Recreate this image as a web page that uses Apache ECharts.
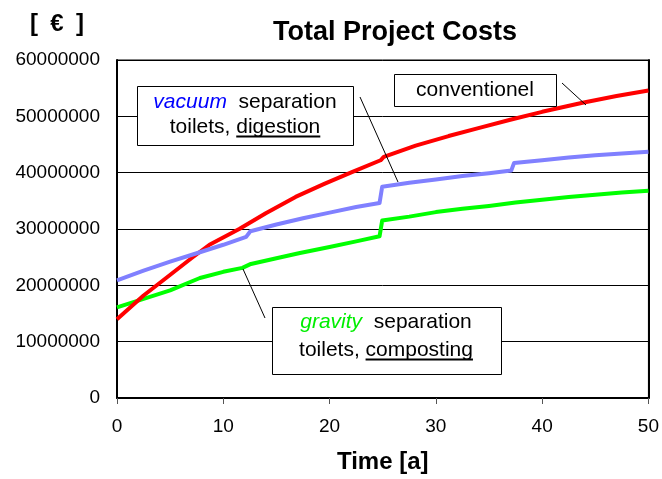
<!DOCTYPE html>
<html>
<head>
<meta charset="utf-8">
<script src="https://cdn.jsdelivr.net/npm/echarts@6/dist/echarts.min.js"></script>
<style>
html,body{margin:0;padding:0;background:#fff;}
#chart{width:662px;height:479px;}
</style>
</head>
<body>
<div id="chart"></div>
<script>
// ---- data (values in million EUR) ----
var conventionelT = [0, 2.5, 4.65, 7, 8.7, 11.5, 14, 16.8, 19.5, 22.1, 24.8, 25.1, 28.1, 31.2, 34, 37, 40, 43.8, 47, 50];
var conventionelV = [14.0, 18.2, 21.35, 24.8, 27.2, 30.0, 32.8, 35.7, 38.0, 40.1, 42.2, 42.8, 44.8, 46.5, 47.9, 49.4, 50.8, 52.4, 53.6, 54.6];

var vacuumT = [0, 2.5, 5, 7.5, 10, 12.15, 12.55, 15, 17.5, 20, 22.5, 24.7, 24.95, 27.5, 30, 32.5, 35, 37.1, 37.35, 40, 42.5, 45, 47.5, 50];
var vacuumV = [20.9, 22.6, 24.2, 25.7, 27.2, 28.6, 29.6, 30.8, 31.9, 32.9, 33.9, 34.6, 37.5, 38.2, 38.8, 39.4, 39.9, 40.4, 41.7, 42.2, 42.7, 43.1, 43.4, 43.7];

var gravityT = [0, 2.5, 5, 7.8, 10, 11.8, 12.6, 15, 17.1, 20, 22.5, 24.7, 24.95, 27.5, 30, 32.5, 35, 37.5, 40, 42.5, 45, 47.5, 50];
var gravityV = [16.1, 17.6, 19.1, 21.3, 22.4, 23.1, 23.8, 24.8, 25.7, 26.8, 27.8, 28.7, 31.5, 32.2, 33.0, 33.6, 34.1, 34.7, 35.2, 35.7, 36.1, 36.5, 36.8];

var yTickLabels = ['0', '10000000', '20000000', '30000000', '40000000', '50000000', '60000000'];
var xTickLabels = ['0', '10', '20', '30', '40', '50'];

function pairs(ts, vs) {
  var out = [];
  for (var i = 0; i < ts.length; i++) out.push([ts[i], vs[i] * 1000000]);
  return out;
}

var FONT = '"Liberation Sans", Arial, Helvetica, sans-serif';
var ANN = 21;

// measure text for underlines
var mctx = document.createElement('canvas').getContext('2d');
function tw(s, size) { mctx.font = size + 'px ' + FONT; return mctx.measureText(s).width; }

function underlineFor(prefix, word, cx, cy, size) {
  var W = tw(prefix + word, size);
  var x0 = cx - W / 2 + tw(prefix, size);
  var x1 = cx + W / 2;
  var y = Math.round(cy + size * 0.45) + 0.5;
  return { type: 'line', shape: { x1: x0, y1: y, x2: x1, y2: y }, style: { stroke: '#000', lineWidth: 2 }, z: 110 };
}

var chart = echarts.init(document.getElementById('chart'), null, { renderer: 'canvas' });

var lineCommon = { type: 'line', showSymbol: false, symbol: 'none', smooth: false, animation: false };

var option = {
  backgroundColor: '#ffffff',
  animation: false,
  grid: { left: 117, right: 11, top: 60, bottom: 78, show: true, borderColor: '#000', borderWidth: 1, backgroundColor: 'transparent' },
  xAxis: {
    type: 'value', min: 0, max: 50, interval: 10,
    name: 'Time [a]', nameLocation: 'middle', nameGap: 52,
    nameTextStyle: { fontFamily: FONT, fontWeight: 'bold', fontSize: 24, color: '#000' },
    axisLine: { show: true, onZero: false, lineStyle: { color: '#000', width: 2 } },
    axisTick: { show: true, length: 6, lineStyle: { color: '#555', width: 1 } },
    splitLine: { show: false },
    axisLabel: { margin: 19, fontFamily: FONT, fontSize: 19, color: '#000',
      formatter: function (v) { return xTickLabels[Math.round(v / 10)]; } }
  },
  yAxis: [{
    type: 'value', min: 0, max: 60000000, interval: 10000000,
    axisLine: { show: true, lineStyle: { color: '#000', width: 2 } },
    axisTick: { show: false },
    splitLine: { show: true, lineStyle: { color: '#000', width: 1 } },
    axisLabel: { margin: 17, fontFamily: FONT, fontSize: 19, color: '#000',
      formatter: function (v) { return yTickLabels[Math.round(v / 10000000)]; } }
  }, {
    type: 'value', min: 0, max: 60000000, interval: 10000000, position: 'right',
    axisLine: { show: true, lineStyle: { color: '#000', width: 2 } },
    axisTick: { show: false }, axisLabel: { show: false }, splitLine: { show: false }
  }],
  series: [
    Object.assign({}, lineCommon, { name: 'gravity', data: pairs(gravityT, gravityV), lineStyle: { color: '#00ff00', width: 4, join: 'round' }, itemStyle: { color: '#00ff00' }, z: 3 }),
    Object.assign({}, lineCommon, { name: 'conventionel', data: pairs(conventionelT, conventionelV), lineStyle: { color: '#ff0000', width: 4, join: 'round' }, itemStyle: { color: '#ff0000' }, z: 4 }),
    Object.assign({}, lineCommon, { name: 'vacuum', data: pairs(vacuumT, vacuumV), lineStyle: { color: '#8080ff', width: 4, join: 'round' }, itemStyle: { color: '#8080ff' }, z: 5 })
  ],
  graphic: [
    { type: 'text', x: 395, y: 33, z: 100, style: { text: 'Total Project Costs', font: 'bold 27px ' + FONT, fill: '#000', textAlign: 'center', textVerticalAlign: 'middle' } },
    { type: 'text', x: 30, y: 24, z: 100, style: { text: '[', font: 'bold 24px ' + FONT, fill: '#000', textAlign: 'left', textVerticalAlign: 'middle' } },
    { type: 'text', x: 57, y: 24, z: 100, style: { text: '€', font: 'bold 24px ' + FONT, fill: '#000', textAlign: 'center', textVerticalAlign: 'middle' } },
    { type: 'text', x: 84, y: 24, z: 100, style: { text: ']', font: 'bold 24px ' + FONT, fill: '#000', textAlign: 'right', textVerticalAlign: 'middle' } },

    // leader lines
    { type: 'line', z: 100, shape: { x1: 562, y1: 83, x2: 586, y2: 105 }, style: { stroke: '#000', lineWidth: 1 } },
    { type: 'line', z: 100, shape: { x1: 360, y1: 97, x2: 398, y2: 182 }, style: { stroke: '#000', lineWidth: 1 } },
    { type: 'line', z: 100, shape: { x1: 265, y1: 318, x2: 243, y2: 269 }, style: { stroke: '#000', lineWidth: 1 } },

    // conventionel box
    { type: 'rect', z: 100, shape: { x: 394.5, y: 74.5, width: 162, height: 32 }, style: { fill: '#fff', stroke: '#000', lineWidth: 1 } },
    { type: 'text', z: 110, x: 475, y: 90, style: { text: 'conventionel', font: ANN + 'px ' + FONT, fill: '#000', textAlign: 'center', textVerticalAlign: 'middle' } },

    // vacuum box
    { type: 'rect', z: 100, shape: { x: 137.5, y: 86.5, width: 216, height: 59 }, style: { fill: '#fff', stroke: '#000', lineWidth: 1 } },
    { type: 'text', z: 110, x: 245, y: 102, style: { text: '{v|vacuum}  separation', font: ANN + 'px ' + FONT, fill: '#000', textAlign: 'center', textVerticalAlign: 'middle',
      rich: { v: { fontStyle: 'italic', fontSize: ANN, fontFamily: FONT, fill: '#0000ff' } } } },
    { type: 'text', z: 110, x: 245, y: 127, style: { text: 'toilets, digestion', font: ANN + 'px ' + FONT, fill: '#000', textAlign: 'center', textVerticalAlign: 'middle' } },
    underlineFor('toilets, ', 'digestion', 245, 127, ANN),

    // gravity box
    { type: 'rect', z: 100, shape: { x: 272.5, y: 307.5, width: 229, height: 67 }, style: { fill: '#fff', stroke: '#000', lineWidth: 1 } },
    { type: 'text', z: 110, x: 386, y: 322, style: { text: '{g|gravity}  separation', font: ANN + 'px ' + FONT, fill: '#000', textAlign: 'center', textVerticalAlign: 'middle',
      rich: { g: { fontStyle: 'italic', fontSize: ANN, fontFamily: FONT, fill: '#00ee00' } } } },
    { type: 'text', z: 110, x: 386, y: 350, style: { text: 'toilets, composting', font: ANN + 'px ' + FONT, fill: '#000', textAlign: 'center', textVerticalAlign: 'middle' } },
    underlineFor('toilets, ', 'composting', 386, 350, ANN)
  ]
};

chart.setOption(option);
</script>
</body>
</html>
